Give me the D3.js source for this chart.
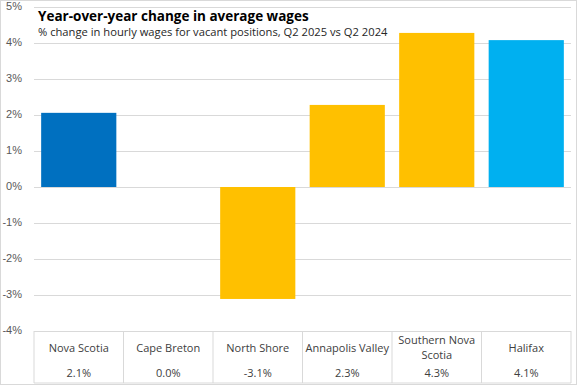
<!DOCTYPE html>
<html>
<head>
<meta charset="utf-8">
<script src="https://cdn.jsdelivr.net/npm/d3@7"></script>
<style>
  body { margin: 0; background: #fff; }
  svg { font-family: "Open Sans", "Liberation Sans", sans-serif; }
</style>
</head>
<body>
<div id="chart"></div>
<script>
// chart data
const regions = ["Nova Scotia", "Cape Breton", "North Shore", "Annapolis Valley", "Southern Nova Scotia", "Halifax"];
const changes = [2.06, 0.0, -3.11, 2.28, 4.28, 4.08];
const barColors = ["#0070C0", "#FFC000", "#FFC000", "#FFC000", "#FFC000", "#00B0F0"];
const yTicks = [-4, -3, -2, -1, 0, 1, 2, 3, 4, 5];

const width = 577, height = 385;
const plotL = 34, plotR = 571, plotT = 7, plotB = 331;

const svg = d3.select("#chart").append("svg")
  .attr("width", width)
  .attr("height", height);

// outer frame
svg.append("rect")
  .attr("x", 0.5).attr("y", 0.5)
  .attr("width", width - 1).attr("height", height - 1)
  .attr("fill", "#fff").attr("stroke", "#d9d9d9");

const x = d3.scaleBand().domain(regions).range([plotL, plotR]).paddingInner(0.16).paddingOuter(0.08);
const cols = d3.scaleBand().domain(regions).range([plotL, plotR]);
const y = d3.scaleLinear().domain([-4, 5]).range([plotB, plotT]);

// gridlines + labels
const yAxis = d3.axisLeft(y).tickValues(yTicks).tickSize(-(plotR - plotL)).tickFormat(d => d + "%");
const ga = svg.append("g").attr("transform", `translate(${plotL},0)`).call(yAxis);
ga.select(".domain").remove();
ga.selectAll(".tick line").attr("stroke", "#d9d9d9");
ga.selectAll(".tick text").attr("fill", "#595959").attr("font-size", 11).attr("x", -12).attr("dy", "0.2em");

// bars
svg.selectAll("rect.bar")
  .data(regions)
  .enter().append("rect")
  .attr("class", "bar")
  .attr("x", d => x(d))
  .attr("width", x.bandwidth())
  .attr("y", (d, i) => y(Math.max(0, changes[i])))
  .attr("height", (d, i) => Math.abs(y(changes[i]) - y(0)))
  .attr("fill", (d, i) => barColors[i]);

// data table below
const tbl = svg.append("g");
tbl.selectAll("line.sep")
  .data(regions.concat(["end"]))
  .enter().append("line")
  .attr("x1", (d, i) => i < regions.length ? cols(d) : plotR)
  .attr("x2", (d, i) => i < regions.length ? cols(d) : plotR)
  .attr("y1", plotB).attr("y2", 383)
  .attr("stroke", "#d9d9d9");
tbl.append("line")
  .attr("x1", plotL).attr("x2", plotR)
  .attr("y1", 383).attr("y2", 383)
  .attr("stroke", "#d9d9d9");

const wrapLabel = name => name === "Southern Nova Scotia" ? ["Southern Nova", "Scotia"] : [name];

tbl.selectAll("text.cat")
  .data(regions)
  .enter().append("text")
  .attr("class", "cat")
  .attr("x", d => cols(d) + cols.bandwidth() / 2)
  .attr("y", d => wrapLabel(d).length > 1 ? 344 : 352)
  .attr("text-anchor", "middle")
  .attr("font-size", 11)
  .attr("fill", "#404040")
  .each(function (d) {
    const lines = wrapLabel(d);
    d3.select(this).selectAll("tspan").data(lines).enter().append("tspan")
      .attr("x", cols(d) + cols.bandwidth() / 2)
      .attr("dy", (l, j) => j === 0 ? 0 : 15)
      .text(l => l);
  });

tbl.selectAll("text.val")
  .data(regions)
  .enter().append("text")
  .attr("class", "val")
  .attr("x", d => cols(d) + cols.bandwidth() / 2)
  .attr("y", 377)
  .attr("text-anchor", "middle")
  .attr("font-size", 11)
  .attr("fill", "#404040")
  .text((d, i) => changes[i].toFixed(1) + "%");

// titles
svg.append("text")
  .attr("x", 38).attr("y", 21)
  .attr("font-size", 13.5).attr("font-weight", "bold").attr("fill", "#000")
  .text("Year-over-year change in average wages");
svg.append("text")
  .attr("x", 38).attr("y", 36)
  .attr("font-size", 11.2).attr("fill", "#262626")
  .text("% change in hourly wages for vacant positions, Q2 2025 vs Q2 2024");
</script>
</body>
</html>
